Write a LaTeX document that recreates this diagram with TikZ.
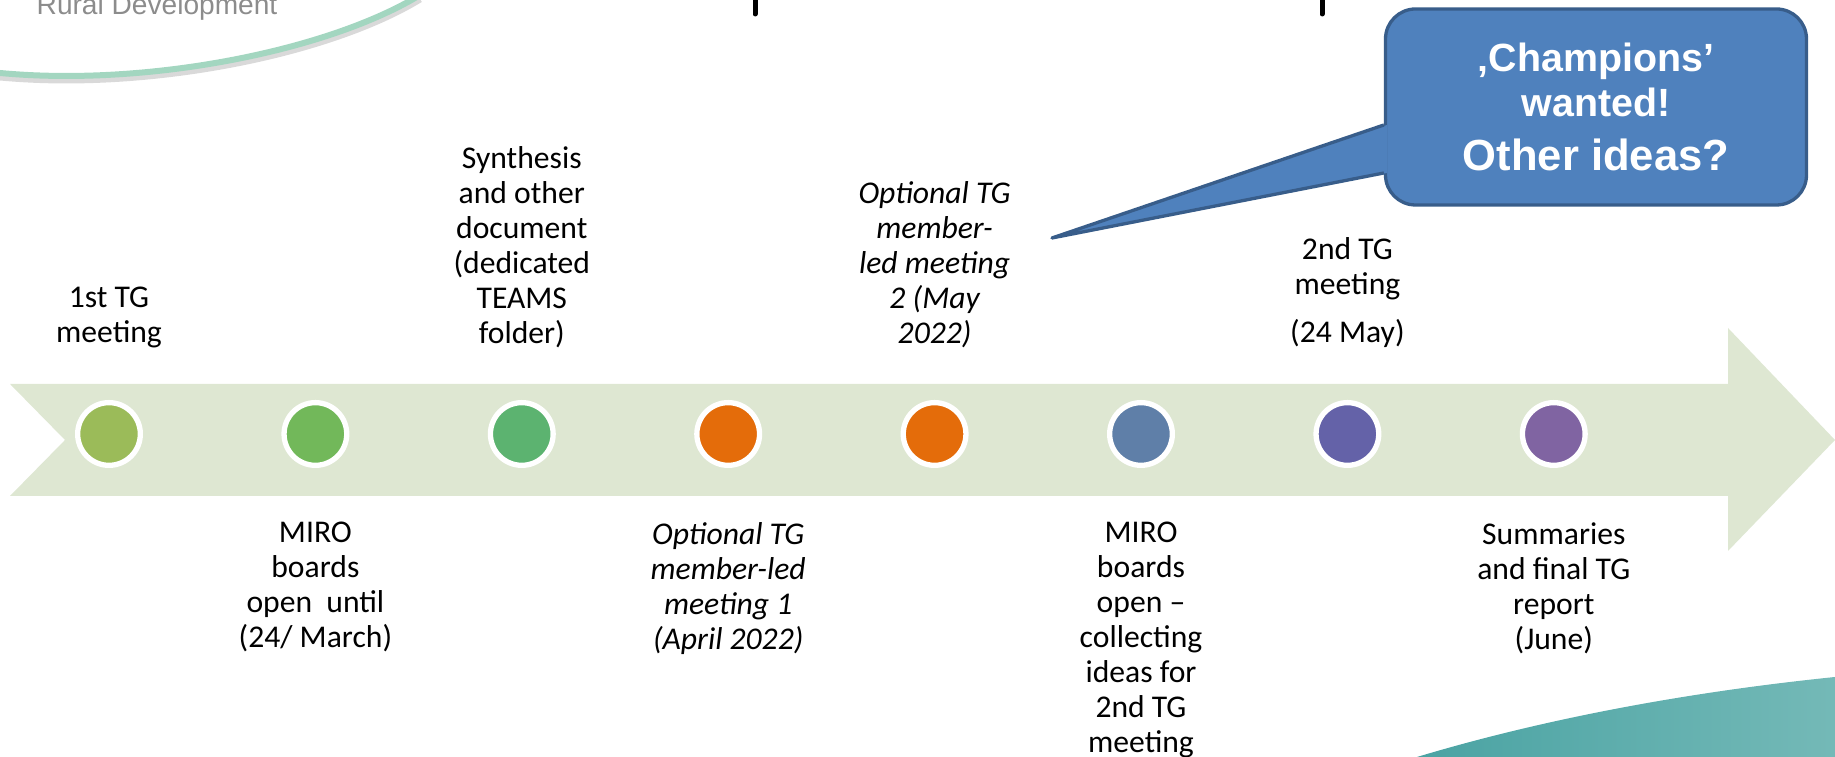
\documentclass[tikz,border=0pt]{standalone}
\usepackage{fontspec}
\setmainfont{Carlito}
\newfontfamily\bubblefont{Liberation Sans}
\newfontfamily\logofont{Liberation Sans}
\usetikzlibrary{positioning, calc}
\definecolor{bandcolor}{RGB}{222,231,210}
\definecolor{dotA}{RGB}{155,187,89}
\definecolor{dotB}{RGB}{114,184,90}
\definecolor{dotC}{RGB}{92,179,112}
\definecolor{dotD}{RGB}{228,108,10}
\definecolor{dotE}{RGB}{95,127,168}
\definecolor{dotF}{RGB}{100,98,168}
\definecolor{dotG}{RGB}{128,100,162}
\definecolor{bubblefill}{RGB}{79,129,189}
\definecolor{bubbleline}{RGB}{56,93,138}
\definecolor{mint}{RGB}{163,214,192}
\definecolor{tealA}{RGB}{74,163,163}
\definecolor{tealB}{RGB}{116,185,183}
\definecolor{logogray}{RGB}{140,140,140}
\tikzstyle{dot} = [circle, minimum size=0.627cm, inner sep=0pt, outer sep=0pt,
                   draw=white, line width=0.053cm, on grid]
\tikzstyle{txt} = [align=center, inner sep=0pt, outer sep=0pt,
                   font=\fontsize{9}{9.96}\selectfont]
\tikzstyle{txtit} = [txt, font=\fontsize{9}{9.96}\selectfont\itshape]
\tikzstyle{bubble} = [rectangle, rounded corners=0.3cm,
                      minimum width=4.21cm, minimum height=1.96cm, align=center,
                      draw=bubbleline, line width=0.033cm, fill=bubblefill,
                      text=white, font=\fontsize{11.2}{11.6}\bubblefont\bfseries]
\tikzstyle{pointer} = [draw=bubbleline, line width=0.033cm, line join=round]
\tikzstyle{tick} = [line width=0.05cm, line cap=round]

\begin{document}
\begin{tikzpicture}[node distance=2.064cm]
    \useasboundingbox (0,0) rectangle (18.35,7.57);
    \clip (0,0) rectangle (18.35,7.57);

    %Header remains
    \node (rural) [anchor=base west, inner sep=0pt, text=logogray,
                   font=\fontsize{8}{9}\logofont] at (0.36,7.42) {Rural Development};
    \draw [line width=0.07cm, black!15] (0,6.80) .. controls (1.5,6.66) and (3.3,7.03) .. (4.2,7.58);
    \draw [line width=0.06cm, mint] (0,6.84) .. controls (1.5,6.70) and (3.3,7.07) .. (4.2,7.62);
    \draw [tick] (7.55,7.43) -- (7.55,7.70);
    \draw [tick] (13.22,7.43) -- (13.22,7.70);

    %Footer swoosh
    \shade [left color=tealA, right color=tealB] (14.17,0) .. controls (15.0,0.25) and (16.4,0.60) .. (18.35,0.80) -- (18.35,0) -- cycle;

    %Timeline arrow
    \fill [bandcolor] (0.10,3.73) -- (17.28,3.73) -- (17.28,4.29) -- (18.35,3.17)
        -- (17.28,2.06) -- (17.28,2.61) -- (0.10,2.61) -- (0.65,3.17) -- cycle;

    %Milestones
    \node (c1) [dot, fill=dotA] at (1.09,3.23) {};
    \node (c2) [dot, fill=dotB, right=of c1] {};
    \node (c3) [dot, fill=dotC, right=of c2] {};
    \node (c4) [dot, fill=dotD, right=of c3] {};
    \node (c5) [dot, fill=dotD, right=of c4] {};
    \node (c6) [dot, fill=dotE, right=of c5] {};
    \node (c7) [dot, fill=dotF, right=of c6] {};
    \node (c8) [dot, fill=dotG, right=of c7] {};

    %Texts above
    \node (t1) [txt, above=0.55cm of c1] {1st TG\\meeting};
    \node (t3) [txt, above=0.55cm of c3] {Synthesis\\and other\\document\\(dedicated\\TEAMS\\folder)};
    \node (t5) [txtit, above=0.55cm of c5] {Optional TG\\member-\\led meeting\\2 (May\\2022)};
    \node (t7) [txt, above=0.55cm of c7] {2nd TG\\meeting\\[0.13cm](24 May)};

    %Texts below
    \node (t2) [txt, below=0.57cm of c2] {MIRO\\boards\\open\ \ until\\(24/ March)};
    \node (t4) [txtit, below=0.57cm of c4] {Optional TG\\member-led\\meeting 1\\(April 2022)};
    \node (t6) [txt, below=0.57cm of c6] {MIRO\\boards\\open --\\collecting\\ideas for\\2nd TG\\meeting};
    \node (t8) [txt, below=0.57cm of c8] {Summaries\\and final TG\\report\\(June)};

    %Callout
    \node (bubble) [bubble] at (15.96,6.5)
        {‚Champions’\\[0.045cm]wanted!\\[0.13cm]\fontsize{12.4}{11.6}\selectfont Other ideas?};
    \coordinate (tip) at (10.52,5.19);
    \fill [bubblefill] ($(bubble.west)+(0.03,-0.18)$) -- (tip) -- ($(bubble.west)+(0.03,-0.66)$) -- cycle;
    \draw [pointer] ($(bubble.west)+(0,-0.18)$) -- (tip) -- ($(bubble.west)+(0,-0.66)$);

\end{tikzpicture}
\end{document}
